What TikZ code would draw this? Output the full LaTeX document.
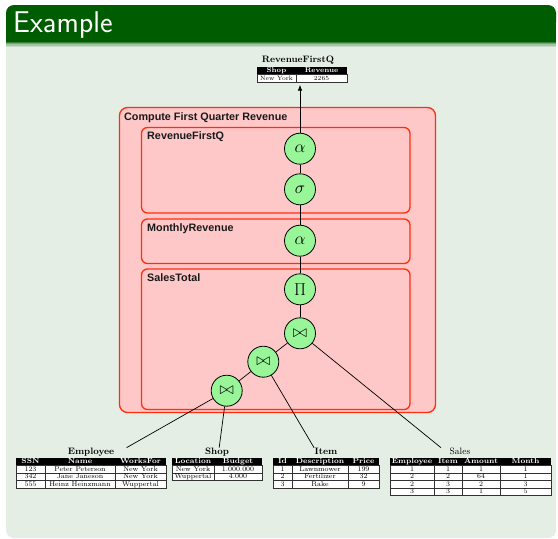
\documentclass[tikz,border=0pt]{standalone}
\usepackage{fontspec}
\newfontfamily\grpfont{Liberation Sans}
\usetikzlibrary{arrows.meta,fit}

\definecolor{titlegreen}{RGB}{0,92,0}
\definecolor{bodygreen}{RGB}{228,238,229}
\definecolor{grppink}{RGB}{255,200,200}
\definecolor{grpred}{RGB}{255,45,15}
\definecolor{opgreen}{RGB}{152,245,152}
\definecolor{cellgrid}{RGB}{50,50,50}

\tikzset{
  op/.style={circle, draw=black, fill=opgreen, line width=0.8pt,
    minimum size=31pt, inner sep=0pt, font=\fontsize{17}{17}\selectfont},
  grp/.style={draw=grpred, fill=grppink, line width=1.3pt},
  grplabel/.style={anchor=base west, inner sep=0pt,
    font=\grpfont\fontsize{10.8}{12}\selectfont\bfseries, text=black!90},
  link/.style={draw=black, line width=0.7pt},
  ttl/.style={anchor=base, inner sep=0pt, font=\fontsize{9.3}{10}\selectfont\bfseries},
  ttlreg/.style={anchor=base, inner sep=0pt, font=\fontsize{9.2}{10}\selectfont},
  hdr/.style={anchor=base, inner sep=0pt, text=white, font=\fontsize{7.4}{8}\selectfont\bfseries},
  dat/.style={anchor=base, inner sep=0pt, font=\fontsize{7}{8}\selectfont},
  hdrs/.style={anchor=base, inner sep=0pt, text=white, font=\fontsize{7}{7}\selectfont\bfseries},
  dats/.style={anchor=base, inner sep=0pt, font=\fontsize{6.2}{6}\selectfont},
  gridline/.style={draw=cellgrid, line width=0.7pt},
  tablebox/.style={inner sep=0pt},
}

\begin{document}
\begin{tikzpicture}[x=1pt,y=-1pt]
\useasboundingbox (0,0) rectangle (558,539);
\fill[white] (0,0) rectangle (558,539);

% frame body and title bar
\fill[bodygreen, rounded corners=8pt] (6,5) rectangle (556,538);
\fill[titlegreen, rounded corners=8pt] (6,5) rectangle (556,30);
\fill[titlegreen] (6,20) rectangle (556,42);
\fill[titlegreen!75!bodygreen] (6,42) rectangle (556,43.2);
\fill[titlegreen!50!bodygreen] (6,43.2) rectangle (556,44.4);
\fill[titlegreen!28!bodygreen] (6,44.4) rectangle (556,45.6);
\fill[titlegreen!12!bodygreen] (6,45.6) rectangle (556,46.8);
\node[anchor=base west, inner sep=0pt, text=white,
  font=\sffamily\fontsize{30}{30}\selectfont] (frametitle) at (13,32) {Example};

% grouping boxes
\draw[grp, rounded corners=8pt] (119.5,107.5) rectangle (435.5,412.5);
\node[grplabel] (lblouter) at (124,120.7) {Compute First Quarter Revenue};
\draw[grp, rounded corners=6pt] (141.5,127.5) rectangle (410,213);
\node[grplabel] (lblrfq) at (147,139.5) {RevenueFirstQ};
\draw[grp, rounded corners=6pt] (141.5,219) rectangle (410,263.5);
\node[grplabel] (lblmr) at (147,231.7) {MonthlyRevenue};
\draw[grp, rounded corners=6pt] (141.5,269) rectangle (410,409.5);
\node[grplabel] (lblst) at (147,281.7) {SalesTotal};

% operator tree
\node[op] (a1) at (300,148.7) {$\alpha$};
\node[op] (sg) at (300,189.3) {$\sigma$};
\node[op] (a2) at (300,240.7) {$\alpha$};
\node[op] (pj) at (300,289.3) {$\Pi$};
\node[op] (j1) at (300,333.3) {$\bowtie$};
\node[op] (j2) at (263.3,361.7) {$\bowtie$};
\node[op] (j3) at (226.7,390.7) {$\bowtie$};
\draw[link] (a1) -- (sg);
\draw[link] (sg) -- (a2);
\draw[link] (a2) -- (pj);
\draw[link] (pj) -- (j1);
\draw[link] (j1) -- (j2);
\draw[link] (j2) -- (j3);

% result table RevenueFirstQ
\node[ttl] (rfq-t) at (298,62.3) {RevenueFirstQ};
\fill[black] (257,67) rectangle (347,74.5);
\draw[gridline, fill=white] (257,74.5) rectangle (347,82);
\draw[gridline] (296,74.5) -- (296,82);
\node[hdrs] (rfq-h1) at (276.5,72.6) {Shop};
\node[hdrs] (rfq-h2) at (321.5,72.6) {Revenue};
\node[dats] (rfq-1-1) at (276.5,80.2) {New York};
\node[dats] (rfq-1-2) at (321.5,80.2) {2265};
\coordinate (rfq-tl) at (257,67);
\coordinate (rfq-br) at (347,82);
\node[tablebox, fit=(rfq-t)(rfq-tl)(rfq-br)] (rfq) {};
\draw[link, -{Latex[length=6pt,width=4.5pt]}, shorten >=2.5pt] (a1) -- (a1 |- rfq.south);

% Employee
\node[ttl] (emp-t) at (91,454.5) {Employee};
\fill[black] (16,458) rectangle (166,465.5);
\draw[gridline, fill=white] (16,465.5) rectangle (166,488);
\foreach \yy in {473,480.5} \draw[gridline] (16,\yy) -- (166,\yy);
\foreach \xx in {45,115} \draw[gridline] (\xx,465.5) -- (\xx,488);
\node[hdr] (emp-h1) at (30.5,463.7) {SSN};
\node[hdr] (emp-h2) at (80,463.7) {Name};
\node[hdr] (emp-h3) at (140.5,463.7) {WorksFor};
\foreach \a/\b/\c [count=\i] in {123/Peter Peterson/New York,
    342/Jane Janeson/New York, 555/Heinz Heinzmann/Wuppertal}{
  \pgfmathsetmacro\yb{465.5+7.5*\i-1.6}
  \node[dat] (emp-\i-1) at (30.5,\yb) {\a};
  \node[dat] (emp-\i-2) at (80,\yb) {\b};
  \node[dat] (emp-\i-3) at (140.5,\yb) {\c};
}
\coordinate (emp-tl) at (16,458);
\coordinate (emp-br) at (166,488);
\node[tablebox, fit=(emp-t)(emp-tl)(emp-br)] (employee) {};

% Shop
\node[ttl] (shop-t) at (217,454.5) {Shop};
\fill[black] (172,458) rectangle (262,465.5);
\draw[gridline, fill=white] (172,465.5) rectangle (262,480.5);
\draw[gridline] (172,473) -- (262,473);
\draw[gridline] (214,465.5) -- (214,480.5);
\node[hdr] (shop-h1) at (193,463.7) {Location};
\node[hdr] (shop-h2) at (238,463.7) {Budget};
\foreach \a/\b [count=\i] in {New York/1.000.000, Wuppertal/4.000}{
  \pgfmathsetmacro\yb{465.5+7.5*\i-1.6}
  \node[dat] (shop-\i-1) at (193,\yb) {\a};
  \node[dat] (shop-\i-2) at (238,\yb) {\b};
}
\coordinate (shop-tl) at (172,458);
\coordinate (shop-br) at (262,480.5);
\node[tablebox, fit=(shop-t)(shop-tl)(shop-br)] (shop) {};

% Item
\node[ttl] (item-t) at (326,454.5) {Item};
\fill[black] (273,458) rectangle (379,465.5);
\draw[gridline, fill=white] (273,465.5) rectangle (379,488);
\foreach \yy in {473,480.5} \draw[gridline] (273,\yy) -- (379,\yy);
\foreach \xx in {292,348} \draw[gridline] (\xx,465.5) -- (\xx,488);
\node[hdr] (item-h1) at (282.5,463.7) {Id};
\node[hdr] (item-h2) at (320,463.7) {Description};
\node[hdr] (item-h3) at (363.5,463.7) {Price};
\foreach \a/\b/\c [count=\i] in {1/Lawnmower/199, 2/Fertilizer/32, 3/Rake/9}{
  \pgfmathsetmacro\yb{465.5+7.5*\i-1.6}
  \node[dat] (item-\i-1) at (282.5,\yb) {\a};
  \node[dat] (item-\i-2) at (320,\yb) {\b};
  \node[dat] (item-\i-3) at (363.5,\yb) {\c};
}
\coordinate (item-tl) at (273,458);
\coordinate (item-br) at (379,488);
\node[tablebox, fit=(item-t)(item-tl)(item-br)] (item) {};

% Sales
\node[ttlreg] (sales-t) at (460,454.5) {Sales};
\fill[black] (390,458) rectangle (551,465.5);
\draw[gridline, fill=white] (390,465.5) rectangle (551,495.5);
\foreach \yy in {473,480.5,488} \draw[gridline] (390,\yy) -- (551,\yy);
\foreach \xx in {434,462,500} \draw[gridline] (\xx,465.5) -- (\xx,495.5);
\node[hdr] (sales-h1) at (412,463.7) {Employee};
\node[hdr] (sales-h2) at (448,463.7) {Item};
\node[hdr] (sales-h3) at (481,463.7) {Amount};
\node[hdr] (sales-h4) at (525.5,463.7) {Month};
\foreach \a/\b/\c/\d [count=\i] in {1/1/1/1, 2/2/64/1, 2/3/2/3, 3/3/1/5}{
  \pgfmathsetmacro\yb{465.5+7.5*\i-1.6}
  \node[dat] (sales-\i-1) at (412,\yb) {\a};
  \node[dat] (sales-\i-2) at (448,\yb) {\b};
  \node[dat] (sales-\i-3) at (481,\yb) {\c};
  \node[dat] (sales-\i-4) at (525.5,\yb) {\d};
}
\coordinate (sales-tl) at (390,458);
\coordinate (sales-br) at (551,495.5);
\node[tablebox, fit=(sales-t)(sales-tl)(sales-br)] (sales) {};

% joins feed from the base tables
\draw[link] (j3) -- (employee);
\draw[link] (j3) -- (shop);
\draw[link] (j2) -- (item);
\draw[link] (j1) -- (sales);
\end{tikzpicture}
\end{document}
